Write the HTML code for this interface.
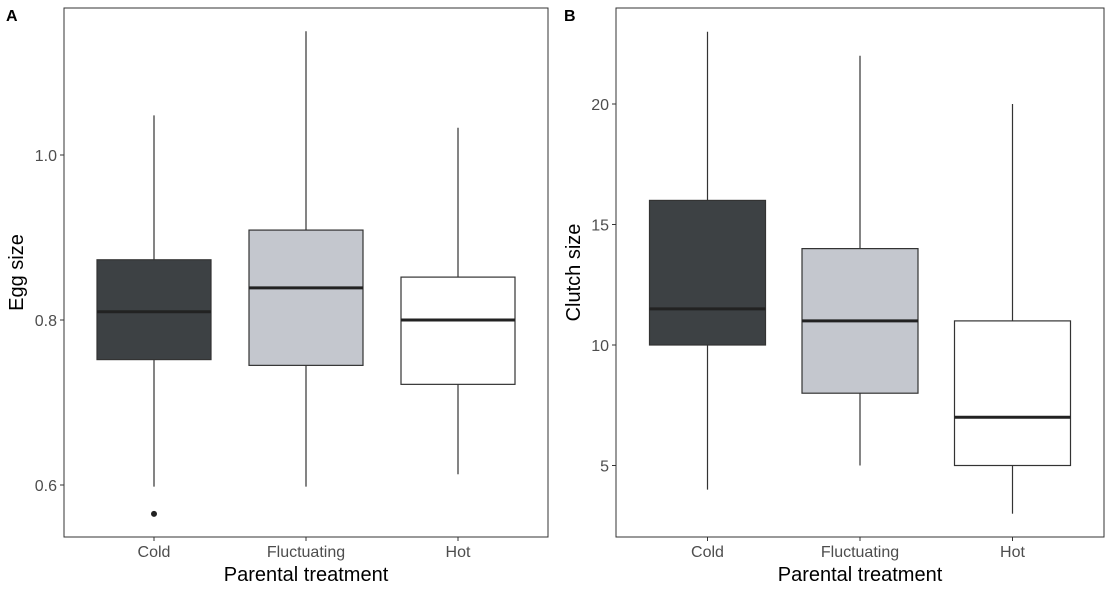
<!DOCTYPE html>
<html><head><meta charset="utf-8"><style>
body{margin:0;background:#fff;}
svg{display:block;font-family:"Liberation Sans",Arial,sans-serif;}
</style></head><body>
<svg id="chart" width="1115" height="593"></svg>
<script>
const categories=["Cold","Fluctuating","Hot"];
const fills=["#3d4144","#c4c7ce","#ffffff"];
// panel A: egg size [low, q1, median, q3, high]
const eggStats=[[0.598,0.752,0.810,0.873,1.048],[0.598,0.745,0.839,0.909,1.150],[0.613,0.722,0.800,0.852,1.033]];
const eggOutliers=[[0.565],[],[]];
const eggTicks=[0.6,0.8,1.0];
// panel B: clutch size
const clutchStats=[[4,10,11.5,16,23],[5,8,11,14,22],[3,5,7,11,20]];
const clutchOutliers=[[],[],[]];
const clutchTicks=[5,10,15,20];

const NS="http://www.w3.org/2000/svg";
const svg=document.getElementById('chart');
function mk(t,a,p){const e=document.createElementNS(NS,t);for(const k in a)e.setAttribute(k,a[k]);(p||svg).appendChild(e);return e;}

function panel(cfg){
  const g=mk('g',{});
  
  
  const {x0,x1,y0,y1,vmin,vmax}=cfg;
  const Y=v=>y1-(v-vmin)/(vmax-vmin)*(y1-y0);
  const n=categories.length;
  // discrete scale with 0.6 expansion on each side
  const step=(x1-x0)/(n-1+1.2*((x1-x0)/(cfg.spacing*(n-1+1.2))>0?1:1));
  const X=i=>(x0+x1)/2+(i-(n-1)/2)*cfg.spacing;
  const frame=mk('rect',{x:x0,y:y0,width:x1-x0,height:y1-y0,fill:'none',stroke:'#333','stroke-width':1},g);
  
  
  cfg.ticks.forEach(t=>{
    mk('line',{x1:x0-4,x2:x0,y1:Y(t),y2:Y(t),stroke:'#333'},g);
    const tx=mk('text',{x:x0-7,y:Y(t)+6,'text-anchor':'end','font-size':16,fill:'#4d4d4d'},g);
    tx.textContent=cfg.fmt(t);
    
    
  });
  const bw=cfg.bw;
  categories.forEach((c,i)=>{
    const s=cfg.stats[i],cx=X(i);
    mk('line',{x1:cx,x2:cx,y1:Y(s[4]),y2:Y(s[3]),stroke:'#333','stroke-width':1.2},g);
    mk('line',{x1:cx,x2:cx,y1:Y(s[1]),y2:Y(s[0]),stroke:'#333','stroke-width':1.2},g);
    const b=mk('rect',{x:cx-bw/2,y:Y(s[3]),width:bw,height:Y(s[1])-Y(s[3]),fill:fills[i],stroke:'#333','stroke-width':1.2},g);
    
    
    mk('line',{x1:cx-bw/2,x2:cx+bw/2,y1:Y(s[2]),y2:Y(s[2]),stroke:'#222','stroke-width':3},g);
    cfg.outliers[i].forEach(o=>{
      const p=mk('circle',{cx:cx,cy:Y(o),r:3,fill:'#222'},g);
      
      
    });
    mk('line',{x1:cx,x2:cx,y1:y1,y2:y1+4,stroke:'#333'},g);
    const tl=mk('text',{x:cx,y:y1+20,'text-anchor':'middle','font-size':16,fill:'#4d4d4d'},g);
    tl.textContent=c;
    
    
  });
  const xt=mk('text',{x:(x0+x1)/2,y:581,'text-anchor':'middle','font-size':20,fill:'#000'},g);
  xt.textContent='Parental treatment';
  
  
  const yt=mk('text',{x:0,y:0,'text-anchor':'middle','font-size':20,fill:'#000',transform:`translate(${cfg.ytx},${(y0+y1)/2}) rotate(-90)`},g);
  yt.textContent=cfg.ytitle;
  
  
  const lab=mk('text',{x:cfg.labx,y:21,'font-size':16,'font-weight':'bold',fill:'#000'},g);
  lab.textContent=cfg.label;
  
  
}
panel({name:'panel-a-egg-size',x0:64,x1:548,y0:8,y1:537,vmin:0.8-(537-320)/825,vmax:0.8+(320-8)/825,spacing:152,
  stats:eggStats,outliers:eggOutliers,ticks:eggTicks,fmt:t=>t.toFixed(1),bw:114,ytitle:'Egg size',ytx:23,label:'A',labx:6});
panel({name:'panel-b-clutch-size',x0:616,x1:1104,y0:8,y1:537,vmin:10-(537-345)/24.1,vmax:10+(345-8)/24.1,spacing:152.5,
  stats:clutchStats,outliers:clutchOutliers,ticks:clutchTicks,fmt:t=>String(t),bw:116,ytitle:'Clutch size',ytx:580,label:'B',labx:564});
</script>
</body></html>
